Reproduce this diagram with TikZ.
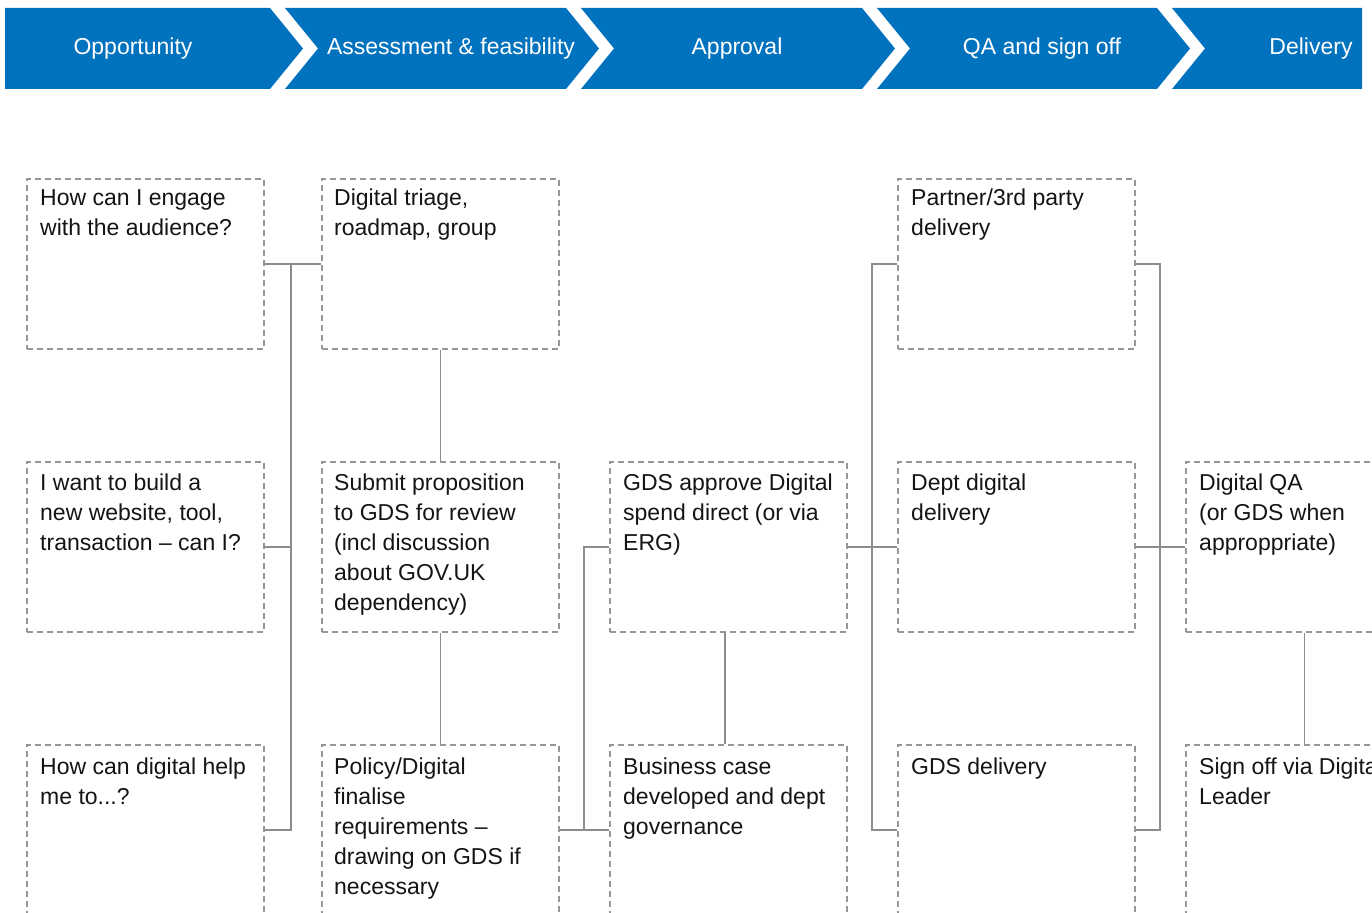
\documentclass[tikz,border=0pt]{standalone}
\usepackage{fontspec}
\setmainfont{Liberation Sans}
\definecolor{hdrblue}{RGB}{0,114,190}
\definecolor{boxgray}{RGB}{150,150,150}
\definecolor{linegray}{RGB}{140,140,140}
\definecolor{txt}{RGB}{20,20,20}
\begin{document}
\begin{tikzpicture}[x=1pt,y=-1pt,
  boxnode/.style={draw=boxgray,line width=1.6pt,dash pattern=on 6pt off 4pt,
    minimum width=237pt,minimum height=170pt,inner sep=0pt,anchor=north west},
  boxtext/.style={anchor=base west,inner sep=0pt,text=txt,
    font=\fontsize{23}{30}\selectfont},
  hdrtext/.style={anchor=base,inner sep=0pt,text=white,
    font=\fontsize{23}{26}\selectfont},
  conn/.style={draw=linegray,line width=1.6pt},
  seg/.style={fill=hdrblue,draw=none}]
\useasboundingbox (0,0) rectangle (1372,912);
\clip (0,0) rectangle (1372,912);
% header chevrons
\path[seg] (5,8) -- (270,8) -- (303,48.5) -- (270,89) -- (5,89) -- cycle;
\path[seg] (285,8) -- (566,8) -- (599,48.5) -- (566,89) -- (285,89) -- (318,48.5) -- cycle;
\path[seg] (581,8) -- (862,8) -- (895,48.5) -- (862,89) -- (581,89) -- (614,48.5) -- cycle;
\path[seg] (877,8) -- (1157,8) -- (1190,48.5) -- (1157,89) -- (877,89) -- (910,48.5) -- cycle;
\path[seg] (1172,8) -- (1362,8) -- (1362,89) -- (1172,89) -- (1205,48.5) -- cycle;
\node[hdrtext] (h1) at (133,55) {Opportunity};
\node[hdrtext] (h2) at (451,55) {Assessment \& feasibility};
\node[hdrtext] (h3) at (737,55) {Approval};
\node[hdrtext] (h4) at (1042,55) {QA and sign off};
\node[hdrtext] (h5) at (1311,55) {Delivery};
% boxes
\foreach \c/\x in {1/26,2/321,3/609,4/897,5/1185}{
  \foreach \r/\y in {1/178,2/461,3/744}{
    \ifnum\c=3 \ifnum\r=1 \else \node[boxnode] (b\c\r) at (\x,\y) {}; \fi
    \else \ifnum\c=5 \ifnum\r=1 \else \node[boxnode] (b\c\r) at (\x,\y) {}; \fi
    \else \node[boxnode] (b\c\r) at (\x,\y) {}; \fi\fi
  }}
% texts
\node[boxtext] (t11) at (40,205) {\parbox[t]{230pt}{How can I engage\\with the audience?}};
\node[boxtext] (t12) at (40,490) {\parbox[t]{230pt}{I want to build a\\new website, tool,\\transaction -- can I?}};
\node[boxtext] (t13) at (40,774) {\parbox[t]{230pt}{How can digital help\\me to...?}};
\node[boxtext] (t21) at (334,205) {\parbox[t]{230pt}{Digital triage,\\roadmap, group}};
\node[boxtext] (t22) at (334,490) {\parbox[t]{230pt}{Submit proposition\\to GDS for review\\(incl discussion\\about GOV.UK\\dependency)}};
\node[boxtext] (t23) at (334,774) {\parbox[t]{230pt}{Policy/Digital\\finalise\\requirements --\\drawing on GDS if\\necessary}};
\node[boxtext] (t32) at (623,490) {\parbox[t]{230pt}{GDS approve Digital\\spend direct (or via\\ERG)}};
\node[boxtext] (t33) at (623,774) {\parbox[t]{230pt}{Business case\\developed and dept\\governance}};
\node[boxtext] (t41) at (911,205) {\parbox[t]{230pt}{Partner/3rd party\\delivery}};
\node[boxtext] (t42) at (911,490) {\parbox[t]{230pt}{Dept digital\\delivery}};
\node[boxtext] (t43) at (911,774) {\parbox[t]{230pt}{GDS delivery}};
\node[boxtext] (t52) at (1199,490) {\parbox[t]{230pt}{Digital QA\\(or GDS when\\approppriate)}};
\node[boxtext] (t53) at (1199,774) {\parbox[t]{230pt}{Sign off via Digital\\Leader}};
% junction coordinates
\coordinate (j1) at (291,0);
\coordinate (j2) at (584,0);
\coordinate (j3) at (872,0);
\coordinate (j4) at (1160,0);
\coordinate (j5) at (725,0);
% connectors
\draw[conn] (b11.east) -- (b21.west);
\draw[conn] (j1 |- b11.east) -- (j1 |- b13.east) -- (b13.east);
\draw[conn] (b12.east) -- (j1 |- b12.east);
\draw[conn] (b21.south) -- (b22.north);
\draw[conn] (b22.south) -- (b23.north);
\draw[conn] (b32.west) -- (j2 |- b32.west) -- (j2 |- b33.west);
\draw[conn] (b23.east) -- (b33.west);
\draw[conn] (j5 |- b32.south) -- (j5 |- b33.north);
\draw[conn] (b32.east) -- (b42.west);
\draw[conn] (b41.west) -- (j3 |- b41.west) -- (j3 |- b43.west) -- (b43.west);
\draw[conn] (b41.east) -- (j4 |- b41.east) -- (j4 |- b43.east) -- (b43.east);
\draw[conn] (b42.east) -- (b52.west);
\draw[conn] (b52.south) -- (b53.north);
\end{tikzpicture}
\end{document}
